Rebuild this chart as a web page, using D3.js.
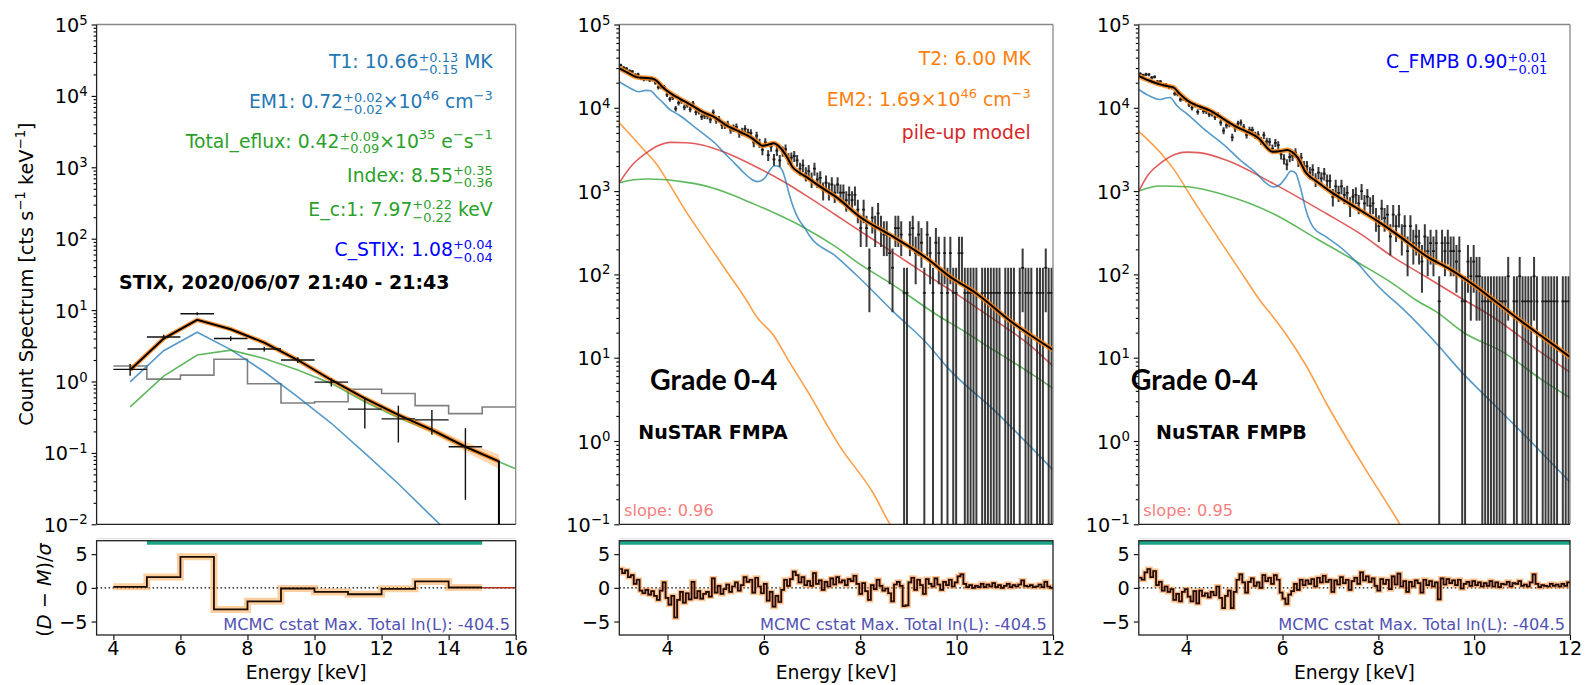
<!DOCTYPE html>
<html><head><meta charset="utf-8">
<script src="https://cdn.jsdelivr.net/npm/d3@7"></script>
<style>
body{margin:0;background:#fff;}
svg{display:block;}
text{font-family:"DejaVu Sans",sans-serif;white-space:pre;}
</style>
</head><body>
<svg id="c" width="1586" height="685"></svg>
<script>
// ---------------- STIX data ----------------
const stixBinLo = [4,5,6,7,8,9,10,11,12,13,14];
const stixBinHi = [5,6,7,8,9,10,11,12,13,14,15];
const stixRate = [1.48,4.2,8.9,4.0,2.85,2.0,0.98,0.41,0.30,0.29,0.122];
const stixRateErr = [0.28,0.3,0.45,0.3,0.22,0.18,0.13,0.19,0.16,0.11,0.10];
const stixModelE = [4.5,5.5,6.5,7.5,8.5,9.5,10.5,11.5,12.5,13.5,14.5,15.5];
const stixTotal = [1.45,4.0,7.3,5.4,3.5,2.0,1.05,0.58,0.34,0.21,0.122,0.076];
const stixTotalLo = [1.40,3.9,7.1,5.25,3.38,1.92,1.0,0.54,0.31,0.185,0.104,0.06];
const stixTotalHi = [1.50,4.1,7.5,5.55,3.62,2.08,1.1,0.62,0.37,0.235,0.142,0.095];
const stixThermal = [0.99,2.7,4.9,2.8,1.37,0.61,0.26,0.099,0.037,0.0128,0.0045,0.0016];
const stixNonthE = [4.5,5.5,6.5,7.5,8.5,9.5,10.5,11.5,12.5,13.5,14.5,15.5,16.5];
const stixNonth = [0.44,1.19,2.35,2.75,2.1,1.45,0.94,0.52,0.31,0.2,0.115,0.075,0.048];
const stixBgLo = [4,5,6,7,8,9,10,11,12,13,14,15];
const stixBg = [1.65,1.08,1.23,2.05,0.93,0.50,0.52,0.78,0.68,0.46,0.355,0.44];
const stixResid = [0.15,1.6,4.6,-3.2,-2.0,-0.1,-0.6,-0.95,-0.15,0.95,0.05];

// ---------------- NuSTAR binning ----------------
const nuStart = 3.0, nuWidth = 0.06, nuBins = 150;
const fpmaCountRate = 60;    // cts s^-1 keV^-1 per count
const fpmbCountRate = 47.5;

const fpmaCounts = [541,505,492,461,453,414,419,380,366,374,
359,363,333,293,296,296,240,212,222,163,
191,201,169,180,160,187,148,151,130,134,
133,120,147,118,122,103,103,106,91,95,
98,82,87,93,84,83,64,77,63,52,
64,45,57,40,51,39,50,53,41,42,
44,39,31,34,27,29,23,31,23,24,
17,21,17,20,16,20,16,16,13,15,
13,15,10,6,10,6,2,8,6,9,
6,5,5,3,2,6,6,5,1,1,
5,6,3,5,4,1,5,3,1,4,
3,1,3,1,3,1,1,3,3,1,
1,1,1,1,0,1,1,1,1,1,
1,1,0,1,1,1,1,0,1,2,
1,1,1,0,1,1,1,2,1,1];

const fpmbCounts = [538,518,530,528,486,495,433,433,393,397,
370,369,312,308,265,273,261,230,210,227,
188,212,192,191,176,179,163,173,140,112,
130,135,93,119,136,140,123,100,114,114,
99,100,85,99,83,82,68,80,75,58,
51,44,54,56,61,48,53,42,42,35,
38,29,35,30,34,28,28,18,24,20,
24,19,20,14,18,19,15,21,15,18,
14,15,10,8,13,10,11,6,11,8,
11,6,8,4,8,5,6,5,3,6,
4,5,4,5,1,5,4,5,4,4,
3,4,1,1,3,2,3,2,2,1,
1,1,1,1,1,1,1,1,2,0,
1,1,2,1,1,1,1,2,1,0,
1,1,1,1,1,1,0,1,1,1];

const fpmaResid = [2.8,2.2,2.6,1.6,1.9,0.6,1.2,-0.4,-0.8,-0.3,
-1.0,-0.5,-1.2,-1.8,-0.4,0.8,-1.5,-2.5,-1.2,-4.4,
-1.8,-0.6,-2.2,-0.8,-1.7,0.9,-1.5,-0.5,-1.6,-0.9,
-0.6,-1.3,1.4,-0.7,0.3,-0.9,-0.2,0.5,-0.6,0.2,
0.8,-0.4,0.4,1.6,0.9,1.2,-0.7,1.5,0.2,-0.8,
0.6,-1.9,-0.6,-2.8,-1.2,-2.1,-0.3,1.2,0.3,1.3,
2.4,1.9,0.8,1.6,0.4,1.0,0.3,2.2,0.6,1.1,
-0.3,0.9,0.2,1.4,0.5,1.6,0.8,1.1,0.4,1.3,
1.0,1.8,0.6,-0.9,0.7,-0.5,-1.8,0.4,-0.2,1.2,
0.3,-0.4,-0.1,-0.8,-2.0,0.5,0.9,0.3,-2.7,-2.6,
0.8,1.5,-0.3,1.2,0.4,-0.9,1.3,0.6,0.2,1.4,
0.5,-0.3,0.9,0.4,1.2,0.2,0.8,1.7,2.0,0.6,
0.1,0.4,0.0,0.3,0.1,0.6,0.1,0.5,0.2,0.7,
0.1,0.4,0.0,0.3,0.6,0.1,0.4,0.2,0.5,1.1,
0.3,0.2,0.4,0.1,0.2,0.5,0.1,0.9,0.2,0.0];

const fpmbResid = [1.5,1.2,2.3,2.8,1.6,2.5,0.4,0.9,-0.4,0.2,
-0.6,-0.2,-1.8,-0.9,-2.0,-0.6,-0.2,-1.3,-2.0,-0.5,
-2.3,-0.4,-1.2,-0.8,-1.4,-0.6,-1.1,0.2,-1.5,-3.0,
-1.2,-0.4,-3.0,-0.6,1.2,2.0,0.8,-0.7,0.9,1.4,
0.3,0.8,0.0,1.9,1.0,1.5,0.6,1.9,1.2,-0.7,
-1.6,-2.4,-1.0,-0.5,0.6,-0.3,1.2,0.4,1.1,0.6,
1.3,0.2,1.5,0.8,1.8,0.9,1.2,-0.6,1.1,0.5,
1.6,0.7,1.2,-0.3,1.0,1.5,0.6,2.3,1.1,1.7,
0.9,1.4,0.3,-0.4,1.3,0.6,1.2,-0.2,1.7,0.5,
2.1,0.2,1.0,-0.6,0.9,0.2,1.1,0.7,-0.7,1.2,
0.4,1.0,0.2,0.8,-1.7,1.4,0.5,1.3,0.7,1.1,
0.4,1.2,-0.1,0.6,0.9,0.3,1.0,0.4,0.8,0.2,
0.7,0.3,1.0,0.2,0.8,0.1,0.6,0.5,0.9,0.2,
0.7,0.6,1.0,0.3,0.5,0.2,0.8,2.0,0.6,0.1,
0.4,0.3,0.2,0.6,0.3,0.5,0.2,0.6,0.3,0.8];

// ---------------- NuSTAR model components (energy, value) ----------------
const fpmaTotalE = [3.0,3.17,3.34,3.5,3.68,3.78,3.89,4.05,4.24,4.5,4.72,5.0,5.21,5.5,5.76,5.9,5.97,6.1,6.21,6.3,6.38,6.5,6.59,6.7,6.87,7.2,7.49,7.99,8.68,9.38,9.86,10.41,11.1,12.0];
const fpmaTotal = [29800,26500,23500,22900,22500,21000,17900,15100,13000,10700,8980,7590,6220,5150,4300,3700,3510,3620,3750,3500,3120,2450,1960,1720,1490,1100,857,493,284,156,94,59,28,12.4];
const fpmaPileE = [3.0,3.25,3.55,3.8,4.07,4.4,4.72,5.2,5.76,6.45,7.0,7.5,8.0,8.5,9.0,9.5,10.0,10.5,11.0,11.5,12.0];
const fpmaPile = [1260,2000,2840,3500,3850,3800,3580,2900,2060,1260,794,513,331,214,138,89,58,37,23.4,14.5,7.9];
const fpmaNonthE = [3.0,3.3,3.6,3.9,4.3,4.72,5.2,5.76,6.3,6.8,7.49,8.0,8.68,9.58,10.2,10.76,11.4,12.0];
const fpmaNonth = [1260,1370,1400,1380,1300,1180,970,713,520,374,215,132,75,33,20,12.4,7.3,4.3];
const fpmaTh1E = [3.0,3.2,3.41,3.55,3.65,3.78,3.89,4.05,4.24,4.5,4.72,5.0,5.21,5.4,5.55,5.75,5.86,5.96,6.04,6.13,6.21,6.28,6.38,6.45,6.52,6.62,6.73,6.85,6.94,7.49,7.99,8.68,9.38,9.86,10.76,12.0];
const fpmaTh1 = [20600,17500,15600,16200,16000,13500,11800,9500,8200,6300,5000,3700,2750,2140,1740,1380,1300,1350,1490,1800,2000,2000,1790,1350,942,620,450,360,295,166,90,36,14.9,7.1,2.4,0.45];
const fpmaTh2E = [3.0,3.3,3.55,3.76,4.0,4.38,4.8,5.21,5.64,5.85,6.2,6.5,6.89,7.58,8.27,8.62,8.8];
const fpmaTh2 = [6610,4270,2950,2160,1320,575,251,113,49,31,18.6,9.5,4.1,0.855,0.236,0.1,0.071];

const fpmbTotalE = [3.0,3.2,3.44,3.6,3.72,3.85,4.0,4.5,5.0,5.5,5.8,5.95,6.1,6.2,6.3,6.5,6.7,7.0,7.5,8.0,8.5,9.0,9.5,10.0,10.5,11.0,11.5,12.0];
const fpmbTotal = [24000,21400,19100,18200,17600,14800,12400,9160,6050,4310,2970,3020,3110,2950,2590,1630,1320,984,650,430,271,166,115,74,44.7,26.9,16.6,10.2];
const fpmbPileE = [3.0,3.2,3.44,3.75,4.0,4.3,4.83,5.81,6.92,7.62,8.31,9.0,9.71,10.4,11.44,12.0];
const fpmbPile = [1000,1585,2130,2750,2940,2880,2340,1230,535,308,161,93,52.5,30.6,11.1,6.7];
const fpmbNonthE = [3.0,3.44,4.0,4.83,5.81,6.71,7.62,8.31,8.8,9.22,9.77,10.61,11.44,12.0];
const fpmbNonth = [1000,1150,1130,887,535,268,134,77,48.6,35.2,20.2,11.6,5.3,3.3];
const fpmbTh1E = [3.0,3.2,3.44,3.6,3.65,3.8,4.0,4.35,4.83,5.1,5.39,5.81,5.95,6.05,6.18,6.27,6.37,6.5,6.64,6.92,7.3,7.62,7.83,8.24,8.31,9.25,9.71,10.4,11.1,12.0];
const fpmbTh1 = [16600,14100,12600,13200,13300,10500,8510,5620,3380,2400,1770,1120,1200,1410,1740,1660,1120,562,369,280,191,126,91,53,49,14,7.0,2.8,1.1,0.32];
const fpmbTh2E = [3.0,3.44,3.72,4.14,4.83,5.25,5.53,5.81,6.09,6.5,6.92,7.62,8.45,8.6];
const fpmbTh2 = [5220,2940,1860,773,194,84.5,48.6,30.6,18.5,7.9,2.8,0.58,0.1,0.071];

// tick values
const stixXTicks = [4,6,8,10,12,14,16];
const nuXTicks = [4,6,8,10,12];
const resYTicks = [-5,0,5];

// ---------------- layout ----------------
const svg = d3.select('#c');
const defs = svg.append('defs');
const MAIN_TOP = 24.5, MAIN_BOT = 524.3, RES_TOP = 540.7, RES_BOT = 635;
const FS = 18.8;
const C = {blue:'#1f77b4', orange:'#ff7f0e', green:'#2ca02c', red:'#d62728', teal:'#1fa386', mcmc:'#5252b2', slope:'#f47f7f'};

const panels = [
  {x0:96.6, x1:515.7, xd:[3.5,16], yd:[1e-2,1e5], xt:stixXTicks},
  {x0:619.3, x1:1053, xd:[3,12], yd:[1e-1,1e5], xt:nuXTicks},
  {x0:1138.8, x1:1570, xd:[3,12], yd:[1e-1,1e5], xt:nuXTicks}
];
panels.forEach((p,i)=>{
  p.x = d3.scaleLinear().domain(p.xd).range([p.x0,p.x1]);
  p.y = d3.scaleLog().domain(p.yd).range([MAIN_BOT, MAIN_TOP]);
  p.r = d3.scaleLinear().domain([-7,7]).range([RES_BOT, RES_TOP]);
  defs.append('clipPath').attr('id','cm'+i).append('rect')
    .attr('x',p.x0).attr('y',MAIN_TOP).attr('width',p.x1-p.x0).attr('height',MAIN_BOT-MAIN_TOP);
  defs.append('clipPath').attr('id','cr'+i).append('rect')
    .attr('x',p.x0).attr('y',RES_TOP).attr('width',p.x1-p.x0).attr('height',RES_BOT-RES_TOP);
  p.gm = svg.append('g').attr('clip-path',`url(#cm${i})`);
  p.gr = svg.append('g').attr('clip-path',`url(#cr${i})`);
});

// rich text helper (superscript / subscript)
function rich(parent, x, y, segs, o={}) {
  const size = o.size || FS, small = size*0.69;
  const g = parent.append('g').attr('fill', o.color || '#000')
    .style('font-size', size+'px').style('font-weight', o.weight || 'normal');
  let cx = 0;
  segs.forEach(s=>{
    if (s.n !== undefined) {
      const t = g.append('text').attr('x',cx).attr('y',0).text(s.n);
      if (s.it) t.style('font-style','oblique');
      cx += t.node().getComputedTextLength();
    } else if (s.sub !== undefined) {
      const a = g.append('text').attr('x',cx).attr('y',-size*0.35).style('font-size',small+'px').text(s.sup);
      const b = g.append('text').attr('x',cx).attr('y',size*0.30).style('font-size',small+'px').text(s.sub);
      cx += Math.max(a.node().getComputedTextLength(), b.node().getComputedTextLength());
    } else {
      const a = g.append('text').attr('x',cx).attr('y',-(o.supRaise || size*0.45)).style('font-size',small+'px').text(s.sup);
      cx += a.node().getComputedTextLength();
    }
  });
  const anchor = o.anchor || 'start';
  const dx = anchor==='end' ? x-cx : anchor==='middle' ? x-cx/2 : x;
  g.attr('transform', `translate(${dx},${y})`);
  return g;
}

// ---------------- axes ----------------
panels.forEach((p,i)=>{
  const [lo,hi] = p.yd.map(v=>Math.round(Math.log10(v)));
  const majors = d3.range(lo,hi+1).map(k=>Math.pow(10,k));
  const minors = [];
  d3.range(lo,hi).forEach(k=>{ for(let m=2;m<=9;m++) minors.push(m*Math.pow(10,k)); });
  const ga = svg.append('g').attr('transform',`translate(${p.x0},0)`);
  ga.call(d3.axisLeft(p.y).tickValues(majors).tickSize(5).tickFormat(''));
  ga.call(g=>g.select('.domain').remove());
  const gm = svg.append('g').attr('transform',`translate(${p.x0},0)`);
  gm.call(d3.axisLeft(p.y).tickValues(minors).tickSize(3).tickFormat(''));
  gm.call(g=>g.select('.domain').remove());
  d3.range(lo,hi+1).forEach(k=>{
    rich(svg, p.x0-9, p.y(Math.pow(10,k))+7.5,
      [{n:'10'},{sup: k<0 ? '\u2212'+(-k) : ''+k}], {anchor:'end', size:19.2, supRaise:7.5});
  });
  const gr = svg.append('g').attr('transform',`translate(${p.x0},0)`);
  gr.call(d3.axisLeft(p.r).tickValues(resYTicks).tickSize(5).tickFormat(''));
  gr.call(g=>g.select('.domain').remove());
  resYTicks.forEach(v=>{
    svg.append('text').attr('x',p.x0-9).attr('y',p.r(v)+7).attr('text-anchor','end')
      .style('font-size','19.2px').text(v<0 ? '\u2212'+(-v) : ''+v);
  });
  const gx = svg.append('g').attr('transform',`translate(0,${RES_BOT})`);
  gx.call(d3.axisBottom(p.x).tickValues(p.xt).tickSize(5).tickFormat(''));
  gx.call(g=>g.select('.domain').remove());
  p.xt.forEach(v=>{
    svg.append('text').attr('x',p.x(v)).attr('y',655).attr('text-anchor','middle')
      .style('font-size','19.2px').text(v);
  });
  svg.append('text').attr('x',(p.x0+p.x1)/2).attr('y',679).attr('text-anchor','middle')
    .style('font-size',FS+'px').text('Energy [keV]');
});
svg.selectAll('.tick line').attr('stroke','#000').attr('stroke-width',1.1);

// ---------------- STIX panel ----------------
(function(){
  const p = panels[0], g = p.gm;
  const bgPts = stixBgLo.map((e,i)=>[e, stixBg[i]]);
  bgPts.push([16, stixBg[stixBg.length-1]]);
  g.append('path').attr('d', d3.line().x(d=>p.x(d[0])).y(d=>p.y(d[1])).curve(d3.curveStepAfter)(bgPts))
    .attr('fill','none').attr('stroke','#808080').attr('stroke-width',1.6);
  g.append('path').attr('d', d3.line().x((d,i)=>p.x(stixModelE[i])).y(d=>p.y(d))(stixThermal))
    .attr('fill','none').attr('stroke',C.blue).attr('stroke-opacity',0.75).attr('stroke-width',1.6);
  g.append('path').attr('d', d3.line().x((d,i)=>p.x(stixNonthE[i])).y(d=>p.y(d))(stixNonth))
    .attr('fill','none').attr('stroke',C.green).attr('stroke-opacity',0.75).attr('stroke-width',1.6);
  g.append('path').attr('d', d3.area().x((d,i)=>p.x(stixModelE[i])).y0((d,i)=>p.y(stixTotalLo[i])).y1(d=>p.y(d))(stixTotalHi))
    .attr('fill',C.orange).attr('fill-opacity',0.3);
  const totPts = stixModelE.map((e,i)=>[e, stixTotal[i]]);
  const ln = d3.line().x(d=>p.x(d[0])).y(d=>p.y(d[1]));
  const last = totPts[totPts.length-1];
  g.append('path').attr('d', ln(totPts)).attr('fill','none').attr('stroke',C.orange).attr('stroke-opacity',0.8).attr('stroke-width',4.5);
  g.append('path').attr('d', ln(totPts) + `L${p.x(last[0])},${MAIN_BOT+5}`).attr('fill','none').attr('stroke','#000').attr('stroke-width',2);
  stixRate.forEach((v,i)=>{
    const xc = p.x((stixBinLo[i]+stixBinHi[i])/2);
    g.append('line').attr('x1',p.x(stixBinLo[i])).attr('x2',p.x(stixBinHi[i])).attr('y1',p.y(v)).attr('y2',p.y(v))
      .attr('stroke','#111').attr('stroke-width',1.4);
    g.append('line').attr('x1',xc).attr('x2',xc).attr('y1',p.y(v+stixRateErr[i])).attr('y2',p.y(Math.max(v-stixRateErr[i],1e-4)))
      .attr('stroke','#111').attr('stroke-width',1.4);
  });
  const gr = p.gr;
  gr.append('rect').attr('x',p.x(5)).attr('width',p.x(15)-p.x(5)).attr('y',p.r(7)).attr('height',p.r(6.4)-p.r(7)).attr('fill',C.teal);
  gr.append('line').attr('x1',p.x0).attr('x2',p.x1).attr('y1',p.r(0)).attr('y2',p.r(0))
    .attr('stroke','#000').attr('stroke-width',1.2).attr('stroke-dasharray','1.5,2.5');
  const rp = stixBinLo.map((e,i)=>[e, stixResid[i]]); rp.push([15, stixResid[stixResid.length-1]]);
  const sl = d3.line().x(d=>p.x(d[0])).y(d=>p.r(d[1])).curve(d3.curveStepAfter);
  gr.append('path').attr('d', sl(rp)).attr('fill','none').attr('stroke','#ff9f40').attr('stroke-opacity',0.5).attr('stroke-width',7);
  gr.append('path').attr('d', sl(rp)).attr('fill','none').attr('stroke','#1a0d00').attr('stroke-width',1.8);
  gr.append('line').attr('x1',p.x(15)).attr('x2',p.x(16)).attr('y1',p.r(0)).attr('y2',p.r(0)).attr('stroke','#b03020').attr('stroke-width',1.5);
})();

// ---------------- NuSTAR panels ----------------
function drawNu(p, counts, rate, resid, comps, total) {
  const g = p.gm;
  const ln = d3.line().x(d=>p.x(d[0])).y(d=>p.y(d[1])).curve(d3.curveMonotoneX);
  const pts = (E,V)=>E.map((e,i)=>[e,V[i]]);
  comps.forEach(c=>{
    g.append('path').attr('d', ln(pts(c.E,c.V))).attr('fill','none')
      .attr('stroke',c.color).attr('stroke-opacity',0.75).attr('stroke-width',1.6);
  });
  counts.forEach((n,i)=>{
    if (n<=0) return;
    const lo = nuStart + i*nuWidth, hi = lo + nuWidth, xc = p.x(lo + nuWidth/2);
    const v = n*rate, s = Math.sqrt(n)*rate;
    const yTop = p.y(v+s), yBot = (v-s) > 1e-3 ? p.y(v-s) : MAIN_BOT+5;
    g.append('line').attr('x1',xc).attr('x2',xc).attr('y1',yTop).attr('y2',yBot)
      .attr('stroke','#262626').attr('stroke-opacity',0.9).attr('stroke-width',2.0);
    g.append('line').attr('x1',p.x(lo)).attr('x2',p.x(hi)).attr('y1',p.y(v)).attr('y2',p.y(v))
      .attr('stroke','#1a1a1a').attr('stroke-width',1.8);
  });
  const tp = pts(total.E,total.V);
  g.append('path').attr('d', ln(tp)).attr('fill','none').attr('stroke',C.orange).attr('stroke-opacity',0.8).attr('stroke-width',5);
  g.append('path').attr('d', ln(tp)).attr('fill','none').attr('stroke','#000').attr('stroke-width',2);
  const gr = p.gr;
  gr.append('rect').attr('x',p.x0).attr('width',p.x1-p.x0).attr('y',p.r(7)).attr('height',p.r(6.4)-p.r(7)).attr('fill',C.teal);
  gr.append('line').attr('x1',p.x0).attr('x2',p.x1).attr('y1',p.r(0)).attr('y2',p.r(0))
    .attr('stroke','#000').attr('stroke-width',1.2).attr('stroke-dasharray','1.5,2.5');
  const rp = resid.map((r,i)=>[nuStart+i*nuWidth, r]); rp.push([nuStart+nuBins*nuWidth, resid[resid.length-1]]);
  const sl = d3.line().x(d=>p.x(d[0])).y(d=>p.r(d[1])).curve(d3.curveStepAfter);
  gr.append('path').attr('d', sl(rp)).attr('fill','none').attr('stroke','#ff9f40').attr('stroke-opacity',0.55).attr('stroke-width',5);
  gr.append('path').attr('d', sl(rp)).attr('fill','none').attr('stroke','#e06060').attr('stroke-width',2.6).attr('stroke-opacity',0.5);
  gr.append('path').attr('d', sl(rp)).attr('fill','none').attr('stroke','#1a0d00').attr('stroke-width',1.7);
}
drawNu(panels[1], fpmaCounts, fpmaCountRate, fpmaResid, [
  {E:fpmaTh2E, V:fpmaTh2, color:C.orange},
  {E:fpmaNonthE, V:fpmaNonth, color:C.green},
  {E:fpmaPileE, V:fpmaPile, color:C.red},
  {E:fpmaTh1E, V:fpmaTh1, color:C.blue}
], {E:fpmaTotalE, V:fpmaTotal});
drawNu(panels[2], fpmbCounts, fpmbCountRate, fpmbResid, [
  {E:fpmbTh2E, V:fpmbTh2, color:C.orange},
  {E:fpmbNonthE, V:fpmbNonth, color:C.green},
  {E:fpmbPileE, V:fpmbPile, color:C.red},
  {E:fpmbTh1E, V:fpmbTh1, color:C.blue}
], {E:fpmbTotalE, V:fpmbTotal});

// ---------------- frames ----------------
panels.forEach(p=>{
  const f = svg.append('g').attr('fill','none');
  f.append('line').attr('x1',p.x0).attr('x2',p.x1).attr('y1',MAIN_TOP).attr('y2',MAIN_TOP).attr('stroke','#888').attr('stroke-width',1.3);
  f.append('line').attr('x1',p.x1).attr('x2',p.x1).attr('y1',MAIN_TOP).attr('y2',MAIN_BOT).attr('stroke','#888').attr('stroke-width',1.3);
  f.append('line').attr('x1',p.x0).attr('x2',p.x0).attr('y1',MAIN_TOP).attr('y2',MAIN_BOT).attr('stroke','#222').attr('stroke-width',1.3);
  f.append('line').attr('x1',p.x0).attr('x2',p.x1).attr('y1',MAIN_BOT).attr('y2',MAIN_BOT).attr('stroke','#222').attr('stroke-width',1.3);
  f.append('rect').attr('x',p.x0).attr('y',RES_TOP).attr('width',p.x1-p.x0).attr('height',RES_BOT-RES_TOP)
    .attr('stroke','#222').attr('stroke-width',1.3);
  svg.append('line').attr('x1',p.x0).attr('x2',p.x1).attr('y1',RES_TOP-2).attr('y2',RES_TOP-2).attr('stroke','#ddd').attr('stroke-width',1);
});

// ---------------- text ----------------
rich(svg, 492.7, 68.3, [{n:'T1: 10.66'},{sup:'+0.13',sub:'\u22120.15'},{n:' MK'}], {anchor:'end', color:C.blue});
rich(svg, 492.7, 108.3, [{n:'EM1: 0.72'},{sup:'+0.02',sub:'\u22120.02'},{n:'\u00d710'},{sup:'46'},{n:' cm'},{sup:'\u22123'}], {anchor:'end', color:C.blue});
rich(svg, 492.7, 147.7, [{n:'Total_eflux: 0.42'},{sup:'+0.09',sub:'\u22120.09'},{n:'\u00d710'},{sup:'35'},{n:' e'},{sup:'\u2212'},{n:'s'},{sup:'\u22121'}], {anchor:'end', color:C.green});
rich(svg, 492.7, 181.7, [{n:'Index: 8.55'},{sup:'+0.35',sub:'\u22120.36'}], {anchor:'end', color:C.green});
rich(svg, 492.7, 216, [{n:'E_c:1: 7.97'},{sup:'+0.22',sub:'\u22120.22'},{n:' keV'}], {anchor:'end', color:C.green});
rich(svg, 492.7, 256, [{n:'C_STIX: 1.08'},{sup:'+0.04',sub:'\u22120.04'}], {anchor:'end', color:'#0000ff'});
svg.append('text').attr('x',119).attr('y',288.7).style('font-size','19px').style('font-weight','bold').text('STIX, 2020/06/07 21:40 - 21:43');

rich(svg, 1030.7, 65, [{n:'T2: 6.00 MK'}], {anchor:'end', color:C.orange});
rich(svg, 1030.7, 106, [{n:'EM2: 1.69\u00d710'},{sup:'46'},{n:' cm'},{sup:'\u22123'}], {anchor:'end', color:C.orange});
rich(svg, 1030.7, 138.5, [{n:'pile-up model'}], {anchor:'end', color:C.red});
rich(svg, 1547.3, 68.3, [{n:'C_FMPB 0.90'},{sup:'+0.01',sub:'\u22120.01'}], {anchor:'end', color:'#0000ff'});

[[650,638.3,624,'NuSTAR FMPA','slope: 0.96'],[1130.7,1156,1143.3,'NuSTAR FMPB','slope: 0.95']].forEach(t=>{
  svg.append('text').attr('x',t[0]).attr('y',390).style('font-family','Lato, "Open Sans", sans-serif')
    .style('font-size','28.5px').style('font-weight','bold').text('Grade 0-4');
  svg.append('text').attr('x',t[1]).attr('y',439.3).style('font-size','19px').style('font-weight','bold').text(t[3]);
  svg.append('text').attr('x',t[2]).attr('y',515.7).style('font-size','16.2px').attr('fill',C.slope).text(t[4]);
});
[510, 1046.7, 1565].forEach(x=>{
  svg.append('text').attr('x',x).attr('y',630).attr('text-anchor','end').style('font-size','16.2px')
    .attr('fill',C.mcmc).text('MCMC cstat Max. Total ln(L): -404.5');
});

const yl = svg.append('g').attr('transform','translate(25.5,274) rotate(-90)');
rich(yl, 0, 7.2, [{n:'Count Spectrum [cts s'},{sup:'\u22121'},{n:' keV'},{sup:'\u22121'},{n:']'}], {anchor:'middle', size:19.3, supRaise:7.5});
const rl = svg.append('g').attr('transform','translate(44,590) rotate(-90)');
rich(rl, 0, 6.5, [{n:'('},{n:'D',it:true},{n:' \u2212 '},{n:'M',it:true},{n:')/'},{n:'\u03c3',it:true}], {anchor:'middle', size:19.3});
</script>
</body></html>
